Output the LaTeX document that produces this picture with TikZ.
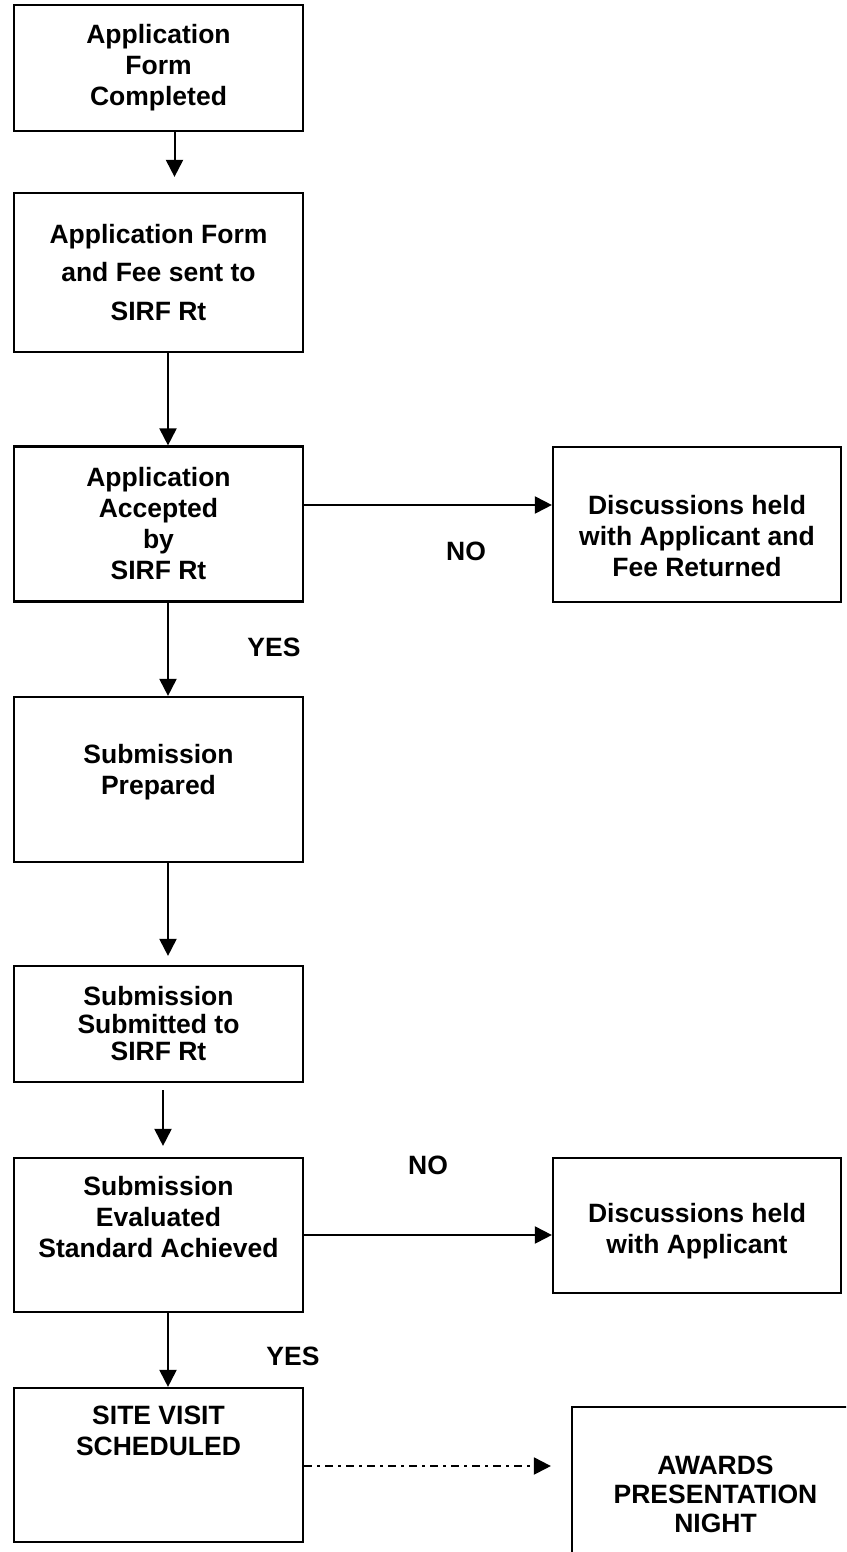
\documentclass[tikz,border=0pt]{standalone}
\usepackage{fontspec}
\setmainfont{Liberation Sans}
\usepackage{tikz}
\usetikzlibrary{arrows.meta, calc}

% invisible struts to move the text inside a box
\newcommand{\lowpad}[1]{\rule[-#1]{0pt}{#1}}
\newcommand{\toppad}[1]{\rule{0pt}{#1}}

\begin{document}
\begin{tikzpicture}[x=1pt, y=-1pt,
    stage/.style={draw, line width=2.2pt, align=center, inner sep=0pt, minimum width=289pt,
        font=\bfseries\fontsize{26.5}{31}\selectfont},
    answer/.style={font=\bfseries\fontsize{26.5}{31}\selectfont},
    flow/.style={line width=2pt, -{Triangle[length=17pt, width=17pt]}},
    later/.style={flow, dash pattern=on 8pt off 5pt on 3pt off 5pt}]

    \clip (0,0) rectangle (846,1552);

    % Main column
    \node[stage, minimum height=126pt] (form) at (158.5,68) {Application\\Form\\Completed};
    \node[stage, minimum height=159pt] (sent) at (158.5,272.5) {Application Form\\[7.5pt]and Fee sent to\\[7.5pt]SIRF Rt};
    \node[stage, minimum height=155pt] (accept) at (158.5,524) {Application\\Accepted\\by\\SIRF Rt};
    \node[stage, minimum height=165pt] (prepared) at (158.5,779.5) {Submission\\Prepared\lowpad{20pt}};
    \node[stage, minimum height=116pt] (submitted) at (158.5,1024) {Submission\\[-3.5pt]Submitted to\\[-3.5pt]SIRF Rt};
    \node[stage, minimum height=154pt] (evaluated) at (158.5,1235) {Submission\\Evaluated\\Standard Achieved\lowpad{36pt}};
    \node[stage, minimum height=154pt] (visit) at (158.5,1465) {SITE VISIT\\SCHEDULED\lowpad{68pt}};

    % Right column
    \node[stage, minimum width=288pt, minimum height=155pt] (refund) at (697,524.5) {\toppad{43pt}Discussions held\\with Applicant and\\Fee Returned};
    \node[stage, minimum width=288pt, minimum height=135pt] (talks) at (697,1225.5) {\toppad{31pt}Discussions held\\with Applicant};
    \node[stage, minimum width=287pt, minimum height=174pt] (awards) at (715.5,1494) {AWARDS\\[-2pt]PRESENTATION\\[-2pt]NIGHT};

    % Answers
    \node[answer] (no1) at (466,551) {NO};
    \node[answer] (yes1) at (274,647) {YES};
    \node[answer] (no2) at (428,1165) {NO};
    \node[answer] (yes2) at (293,1356) {YES};

    % Arrows down the column
    \draw[flow, shorten >=15pt] ($(form.south)+(16,0)$) -- ($(sent.north)+(16,0)$);
    \draw[flow] ($(sent.south)+(9.5,0)$) -- ($(accept.north)+(9.5,0)$);
    \draw[flow] ($(accept.south)+(9.5,0)$) -- ($(prepared.north)+(9.5,0)$);
    \draw[flow, shorten >=9pt] ($(prepared.south)+(9.5,0)$) -- ($(submitted.north)+(9.5,0)$);
    \draw[flow, shorten <=7pt, shorten >=11pt] ($(submitted.south)+(4.5,0)$) -- ($(evaluated.north)+(4.5,0)$);
    \draw[flow] ($(evaluated.south)+(9.5,0)$) -- ($(visit.north)+(9.5,0)$);

    % Arrows to the right
    \draw[flow] ($(accept.east)+(0,-19)$) coordinate (n1) -- (n1 -| refund.west);
    \draw[flow] (evaluated.east) -- (evaluated.east -| talks.west);
    \draw[later, shorten >=20pt] ($(visit.east)+(0,1)$) coordinate (n2) -- (n2 -| awards.west);

\end{tikzpicture}
\end{document}
